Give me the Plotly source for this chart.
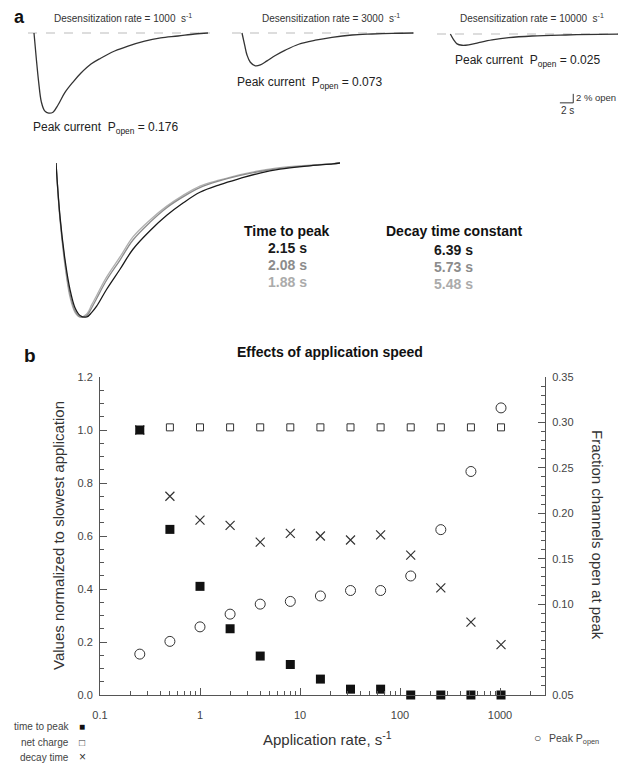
import plotly.graph_objects as go

# The page body adds an 8px margin; the figure is sized and positioned so that
# what is visible in the 626x766 window lines up with the reference.
OFF = 8
W, H = 626 - OFF, 766 - OFF
def px(x): return (x - OFF) / W
def py(y): return 1 - (y - OFF) / H

FONT = "Liberation Sans, Arial, sans-serif"

# ---------------- Panel a data ----------------
DES_RATES = ["1000", "3000", "10000"]
PEAK_POPEN_A = ["0.176", "0.073", "0.025"]

# time (s) and % open
T1 = [0.9, 1.24, 1.6, 2.0, 2.5, 3.1, 3.75, 4.5, 5.5, 6.75, 7.95, 9.45, 10.9, 13.0, 15.0, 17.5, 19.9, 22.5, 25.0, 27.0]
P1 = [0, -5.6, -10.9, -15.3, -17.3, -17.8, -17.6, -16.0, -13.3, -10.9, -8.9, -6.9, -5.6, -4.0, -2.9, -1.8, -1.1, -0.67, -0.22, 0]
T2 = [1.5, 1.9, 2.25, 2.75, 3.5, 4.25, 5.25, 6.5, 8.0, 10.0, 12.5, 15.0, 18.0, 21.0, 24.0, 27.2]
P2 = [0, -2.7, -4.9, -6.5, -7.3, -7.1, -6.2, -5.0, -3.8, -2.5, -1.6, -0.96, -0.44, -0.22, -0.07, 0]
T3 = [2.0, 2.5, 3.0, 3.75, 4.75, 6.25, 8.25, 10.75, 14.25, 19.25, 24.25, 27.7]
P3 = [0, -1.3, -2.2, -2.5, -2.4, -1.9, -1.3, -0.8, -0.45, -0.22, -0.07, 0]

# normalized overlay traces (time s, normalized current)
TN = [0, 0.37, 0.83, 1.28, 1.74, 2.2, 2.82, 3.28, 3.73, 4.65, 5.87, 7.06, 8.62, 10.16, 11.65, 13.2, 15.05, 16.9, 18.7, 20.55, 23.0, 25.4, 26.05]
N_BLACK = [0, -0.35, -0.63, -0.82, -0.94, -0.99, -1.0, -0.97, -0.93, -0.82, -0.69, -0.56, -0.44, -0.34, -0.26, -0.19, -0.14, -0.10, -0.065, -0.04, -0.02, -0.005, 0]
N_GRAY1 = [0, -0.36, -0.65, -0.85, -0.96, -1.0, -0.99, -0.94, -0.88, -0.76, -0.63, -0.50, -0.385, -0.29, -0.22, -0.16, -0.115, -0.08, -0.055, -0.035, -0.018, -0.005, 0]
N_GRAY2 = [0, -0.37, -0.67, -0.87, -0.97, -1.0, -0.98, -0.92, -0.86, -0.74, -0.61, -0.48, -0.37, -0.28, -0.21, -0.15, -0.11, -0.075, -0.05, -0.03, -0.015, -0.004, 0]
TIME_TO_PEAK = ["2.15 s", "2.08 s", "1.88 s"]
DECAY_TAU = ["6.39 s", "5.73 s", "5.48 s"]
SCALE_T = 2   # s
SCALE_P = 2   # % open

# ---------------- Panel b data ----------------
APP_RATE = [0.25, 0.5, 1, 2, 4, 8, 16, 32, 64, 128, 256, 512, 1024]
TTP_NORM = [1.0, 0.625, 0.41, 0.25, 0.147, 0.115, 0.06, 0.022, 0.022, 0.0, 0.0, 0.0, 0.0]
NET_CHARGE = [1.0, 1.01, 1.01, 1.01, 1.01, 1.01, 1.01, 1.01, 1.01, 1.01, 1.01, 1.01, 1.01]
DECAY_NORM = [1.0, 0.75, 0.66, 0.64, 0.577, 0.61, 0.60, 0.585, 0.604, 0.528, 0.404, 0.275, 0.19]
PEAK_POPEN_B = [0.045, 0.059, 0.075, 0.089, 0.100, 0.103, 0.109, 0.115, 0.115, 0.131, 0.182, 0.246, 0.316]
LEFT_TICKS = [0, 0.2, 0.4, 0.6, 0.8, 1.0, 1.2]
RIGHT_TICKVALS = [0, 0.10, 0.15, 0.20, 0.25, 0.30, 0.35]
RIGHT_TICKTEXT = ["0.05", "0.10", "0.15", "0.20", "0.25", "0.30", "0.35"]
X_TICKVALS = [0.1, 1, 10, 100, 1000]
X_TICKTEXT = ["0.1", "1", "10", "100", "1000"]

fig = go.Figure()

# ---- small traces ----
small = [(T1, P1, "x3", "y3"), (T2, P2, "x4", "y4"), (T3, P3, "x5", "y5")]
for t, p, xa, ya in small:
    fig.add_trace(go.Scatter(x=t, y=p, mode="lines", line=dict(color="#333", width=1.3, shape="spline"),
                             xaxis=xa, yaxis=ya, showlegend=False, hoverinfo="skip"))

# scale bar (on panel 3 axes)
SB_T0, SB_P0 = 18.4, -15.3
fig.add_trace(go.Scatter(x=[SB_T0, SB_T0 + SCALE_T, SB_T0 + SCALE_T], y=[SB_P0, SB_P0, SB_P0 + SCALE_P],
                         mode="lines", line=dict(color="#333", width=1), xaxis="x5", yaxis="y5",
                         showlegend=False, hoverinfo="skip"))

# ---- normalized overlay ----
for n, c in [(N_GRAY2, "#b0b0b0"), (N_GRAY1, "#8c8c8c"), (N_BLACK, "#1a1a1a")]:
    fig.add_trace(go.Scatter(x=TN, y=n, mode="lines", line=dict(color=c, width=1.3, shape="spline"),
                             xaxis="x6", yaxis="y6", showlegend=False, hoverinfo="skip"))

# ---- panel b ----
fig.add_trace(go.Scatter(x=APP_RATE, y=NET_CHARGE, mode="markers", cliponaxis=False,
                         marker=dict(symbol="square-open", size=7, color="#333", line=dict(width=1, color="#333")),
                         showlegend=False))
fig.add_trace(go.Scatter(x=APP_RATE, y=DECAY_NORM, mode="markers", cliponaxis=False,
                         marker=dict(symbol="x-thin", size=9, line=dict(width=1.2, color="#333")),
                         showlegend=False))
fig.add_trace(go.Scatter(x=APP_RATE, y=TTP_NORM, mode="markers", cliponaxis=False,
                         marker=dict(symbol="square", size=9, color="#111"), showlegend=False))
fig.add_trace(go.Scatter(x=APP_RATE, y=PEAK_POPEN_B, mode="markers", cliponaxis=False, yaxis="y2",
                         marker=dict(symbol="circle-open", size=10, color="#333", line=dict(width=1, color="#333")),
                         showlegend=False))

hidden = dict(visible=False, showgrid=False, zeroline=False)
small_x = [(28, 210, 27.3), (232, 414, 27.3), (437, 622, 27.7)]
small_y = [(24, 123), (24, 123), (25, 124)]
layout_axes = {}
for i, ((x0, x1, tr), (y0, y1)) in enumerate(zip(small_x, small_y)):
    k = i + 3
    layout_axes[f"xaxis{k}"] = dict(domain=[px(x0), px(x1)], range=[0, tr], anchor=f"y{k}", **hidden)
    layout_axes[f"yaxis{k}"] = dict(domain=[py(y1), py(y0)], range=[-20, 2], anchor=f"x{k}", **hidden)
layout_axes["xaxis6"] = dict(domain=[px(56), px(340)], range=[0, 26.05], anchor="y6", **hidden)
layout_axes["yaxis6"] = dict(domain=[py(321.6), py(158.4)], range=[-1.03, 0.03], anchor="x6", **hidden)

minor_x = [m * 10 ** d for d in range(-1, 4) for m in range(2, 10)]
axis_common = dict(showgrid=False, zeroline=False, showline=True, linecolor="#555", linewidth=1,
                   automargin=False,
                   ticks="inside", tickcolor="#555", tickfont=dict(family=FONT, size=11, color="#444"))

fig.update_layout(
    width=W, height=H, autosize=False,
    margin=dict(l=0, r=0, t=0, b=0, pad=0, autoexpand=False),
    paper_bgcolor="white", plot_bgcolor="white",
    xaxis=dict(domain=[px(100), px(545)], type="log", range=[-1, 3.45], anchor="y",
               tickmode="array", tickvals=X_TICKVALS, ticktext=X_TICKTEXT, ticklen=7,
               ticklabelstandoff=10,
               minor=dict(tickmode="array", tickvals=minor_x, ticks="inside", ticklen=4, tickcolor="#555"),
               **axis_common),
    yaxis=dict(domain=[py(695), py(377)], range=[0, 1.2], anchor="x", tickmode="array",
               tickvals=LEFT_TICKS, tickformat=".1f", ticklen=7, ticklabelstandoff=4,
               minor=dict(tickmode="linear", tick0=0, dtick=0.05, ticks="inside", ticklen=4, tickcolor="#555"),
               **axis_common),
    yaxis2=dict(overlaying="y", side="right", range=[0, 0.35], anchor="x", tickmode="array",
                tickvals=RIGHT_TICKVALS, ticktext=RIGHT_TICKTEXT, ticklen=7, ticklabelstandoff=4,
                minor=dict(tickmode="linear", tick0=0, dtick=0.01, ticks="inside", ticklen=4, tickcolor="#555"),
                **axis_common),
    **layout_axes,
)

# dashed baselines
for k in (3, 4, 5):
    fig.add_shape(type="line", xref=f"x{k} domain", yref=f"y{k}", x0=0, x1=1, y0=0, y1=0,
                  line=dict(color="#bbbbbb", width=1, dash="dash"), layer="below")

def ann(x, y, text, size=11, color="#333", xanchor="center", bold=False, angle=0, yanchor="middle"):
    if bold:
        text = f"<b>{text}</b>"
    fig.add_annotation(x=px(x), y=py(y), xref="paper", yref="paper", text=text, showarrow=False,
                       xanchor=xanchor, yanchor=yanchor, textangle=angle,
                       font=dict(family=FONT, size=size, color=color))

# panel a texts
ann(20, 17, "a", size=18, color="#111", bold=True)
for xc, rate in zip([123, 331, 532], DES_RATES):
    ann(xc, 18, f"Desensitization rate = {rate}  s<sup>-1</sup>", size=10)
for (x0, y0), pk in zip([(31, 128), (235, 83), (453, 61)], PEAK_POPEN_A):
    ann(x0, y0, f"Peak current  P<sub>open</sub> = {pk}", size=12, color="#222", xanchor="left")
ann(574, 97, "2 % open", size=9.5, xanchor="left")
ann(559, 110, "2 s", size=10, xanchor="left")

ann(287, 231, "Time to peak", size=14, color="#111", bold=True)
ann(454, 231, "Decay time constant", size=14, color="#111", bold=True)
colors3 = ["#1a1a1a", "#8c8c8c", "#ababab"]
for i, (ttp, tau, c) in enumerate(zip(TIME_TO_PEAK, DECAY_TAU, colors3)):
    ann(287, 248 + 17 * i, ttp, size=14, color=c, bold=True)
    ann(453, 250 + 17 * i, tau, size=14, color=c, bold=True)

# panel b texts
ann(30, 355, "b", size=19, color="#111", bold=True)
ann(330, 352, "Effects of application speed", size=14, color="#111", bold=True)
ann(58, 536, "Values normalized to slowest application", size=15, color="#333", angle=-90)
ann(598, 535, "Fraction channels open at peak", size=15, color="#333", angle=90)
ann(327, 738, "Application rate, s<sup>-1</sup>", size=15, color="#333")

# legend
ann(71, 726, "time to peak", size=10, color="#444", xanchor="right")
ann(71, 742, "net charge", size=10, color="#444", xanchor="right")
ann(71, 757, "decay time", size=10, color="#444", xanchor="right")
ann(82, 726, "■", size=10, color="#111")
ann(82, 742, "□", size=10, color="#333")
ann(82, 757, "×", size=12, color="#333")
ann(537, 738, "○", size=12, color="#333")
ann(547, 739, "Peak P<sub>open</sub>", size=10.5, color="#444", xanchor="left")

fig.write_html("out.html")
